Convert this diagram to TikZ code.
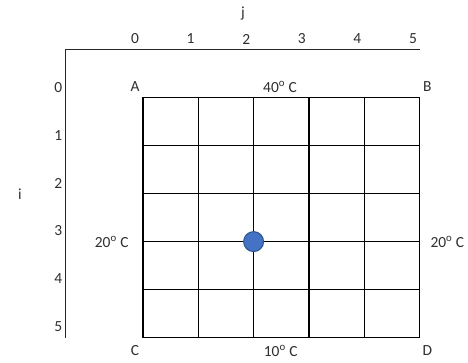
\documentclass[tikz,border=0pt]{standalone}
\usepackage{fontspec}
\setmainfont{Carlito}
\definecolor{txt}{HTML}{2E2E2E}
\definecolor{dotfill}{HTML}{4472C4}
\definecolor{dotedge}{HTML}{2F528F}
\begin{document}
\begin{tikzpicture}[x=1bp,y=-1bp,
  lbl/.style={font=\fontsize{15.5}{15.5}\selectfont, text=txt, inner sep=0pt},
  gridline/.style={line width=1.4bp, black},
  axisline/.style={line width=1.4bp, black!85}]
\useasboundingbox (0,0) rectangle (468,362);
% axes
\coordinate (ax0) at (65.3,337.7);
\coordinate (axc) at (65.3,49.3);
\coordinate (ax1) at (420,49.3);
\draw[axisline] (ax0) -- (axc) -- (ax1);
% grid
\foreach \k in {0,...,5}{
  \draw[gridline] ({143+55.3*\k},97.3) -- ({143+55.3*\k},337.7);
  \draw[gridline] (143,{97.3+48.08*\k}) -- (419.5,{97.3+48.08*\k});
}
% axis labels
\node[lbl] (jlab) at (243,14) {j};
\node[lbl] (ilab) at (20,194) {i};
\foreach \k in {0,...,5}{
  \node[lbl] (j\k) at ({135+55.6*\k},39) {\k};
  \node[lbl] (i\k) at (58.3,{87.3+47.9*\k}) {\k};
}
% corner labels
\node[lbl] (A) at (135,87) {A};
\node[lbl] (B) at (427.3,87) {B};
\node[lbl] (C) at (135,351) {C};
\node[lbl] (D) at (427.3,351) {D};
% temperatures
\node[lbl] (top) at (280,87) {40\textsuperscript{o} C};
\node[lbl] (bot) at (280.7,351) {10\textsuperscript{o} C};
\node[lbl] (left) at (111.7,242) {20\textsuperscript{o} C};
\node[lbl] (right) at (447.3,242) {20\textsuperscript{o} C};
% point
\node[circle, fill=dotfill, draw=dotedge, line width=1bp, minimum size=20bp, inner sep=0pt] (pt) at (253.6,241.6) {};
\end{tikzpicture}
\end{document}
